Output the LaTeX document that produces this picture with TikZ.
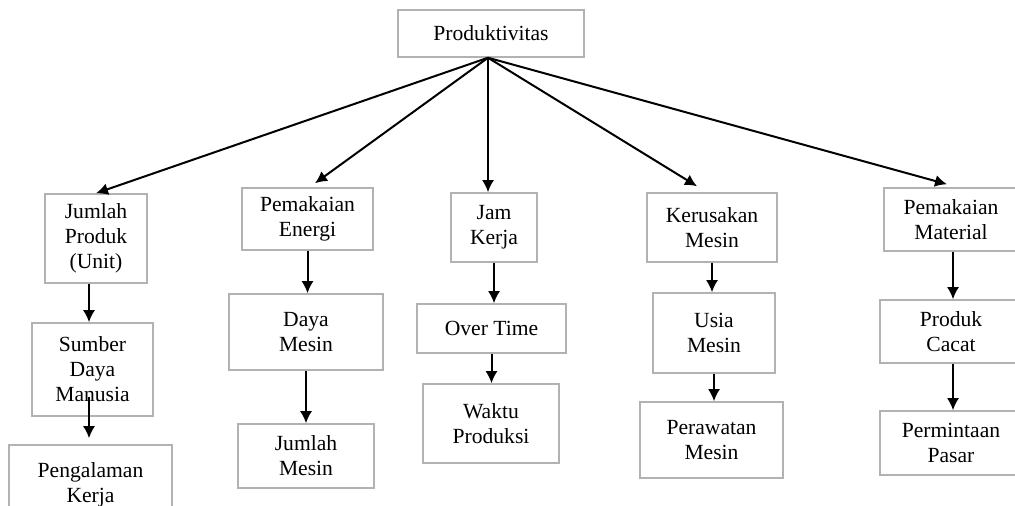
\documentclass[tikz,border=0pt]{standalone}
\usepackage{fontspec}
\setmainfont{Liberation Serif}
\usetikzlibrary{arrows.meta,positioning}

\tikzset{kotak/.style={draw=gray!60, line width=0.75pt, align=center, inner sep=1pt,
    font=\fontsize{10.8}{12.5}\selectfont},
  panah/.style={-{Latex[length=6pt,width=6pt]}, line width=1pt}}

\begin{document}
\begin{tikzpicture}[x=0.5pt,y=-0.5pt]

  \useasboundingbox (0,0) rectangle (1015,506);
  \clip (0,0) rectangle (1015,506);

  \node[kotak, minimum width=93pt, minimum height=23.5pt] (prod) at (491,33.5) {Produktivitas};
  \coordinate (pusat) at ([xshift=-1.5pt]prod.south);

  % kolom 1
  \node[kotak, minimum width=51pt, minimum height=44.5pt] (jp) at (96,238.5) {Jumlah\\Produk\\(Unit)};
  \node[kotak, minimum width=60.5pt, minimum height=46.5pt] (sdm) at (92.5,369.5) {Sumber\\Daya\\Manusia};
  \node[kotak, minimum width=81.5pt, minimum height=40pt] (pk) at (90.5,485) {Pengalaman\\Kerja};

  % kolom 2
  \node[kotak, minimum width=65.5pt, minimum height=31pt] (pe) at (307.5,219) {Pemakaian\\Energi};
  \node[kotak, minimum width=77pt, minimum height=38pt] (dm) at (306,332) {Daya\\Mesin};
  \node[kotak, minimum width=68pt, minimum height=32pt] (jm) at (306,456) {Jumlah\\Mesin};

  % kolom 3
  \node[kotak, minimum width=43pt, minimum height=34.5pt] (jk) at (494,227.5) {Jam\\Kerja};
  \node[kotak, minimum width=74.5pt, minimum height=24.5pt] (ot) at (491.5,328.5) {Over Time};
  \node[kotak, minimum width=68pt, minimum height=39.5pt] (wp) at (491,423.5) {Waktu\\Produksi};

  % kolom 4
  \node[kotak, minimum width=65pt, minimum height=34.5pt] (km) at (712,227.5) {Kerusakan\\Mesin};
  \node[kotak, minimum width=61pt, minimum height=40pt] (um) at (714,333) {Usia\\Mesin};
  \node[kotak, minimum width=71.5pt, minimum height=38pt] (pm) at (711.5,440) {Perawatan\\Mesin};

  % kolom 5
  \node[kotak, minimum width=67pt, minimum height=31.5pt] (pmat) at (951,219.5) {Pemakaian\\Material};
  \node[kotak, minimum width=71pt, minimum height=31.5pt] (pc) at (951,331.5) {Produk\\Cacat};
  \node[kotak, minimum width=71pt, minimum height=32pt] (pp) at (951,443) {Permintaan\\Pasar};

  \draw[panah] (pusat) -- (jp.north);
  \draw[panah] (pusat) -- ([xshift=3.75pt,yshift=2pt]pe.north);
  \draw[panah] (pusat) -- (pusat |- jk.north);
  \draw[panah] (pusat) -- ([xshift=-7.5pt,yshift=3pt]km.north);
  \draw[panah] (pusat) -- ([xshift=-2pt,yshift=1.5pt]pmat.north);

  \draw[panah] ([xshift=-3.5pt]jp.south) -- ([xshift=-3.5pt]jp.south |- sdm.north);
  \draw[panah] ([xshift=-1.75pt,yshift=10pt]sdm.south) -- ([xshift=-1.75pt,yshift=3pt]sdm.south |- pk.north);
  \draw[panah] (pe.south) -- (pe.south |- dm.north);
  \draw[panah] (dm.south) -- (jm.north);
  \draw[panah] (jk.south) -- (jk.south |- ot.north);
  \draw[panah] (ot.south) -- (ot.south |- wp.north);
  \draw[panah] (km.south) -- (km.south |- um.north);
  \draw[panah] (um.south) -- (um.south |- pm.north);
  \draw[panah] ([xshift=1pt]pmat.south) -- ([xshift=1pt]pmat.south |- pc.north);
  \draw[panah] ([xshift=1pt]pc.south) -- ([xshift=1pt]pc.south |- pp.north);

\end{tikzpicture}
\end{document}
